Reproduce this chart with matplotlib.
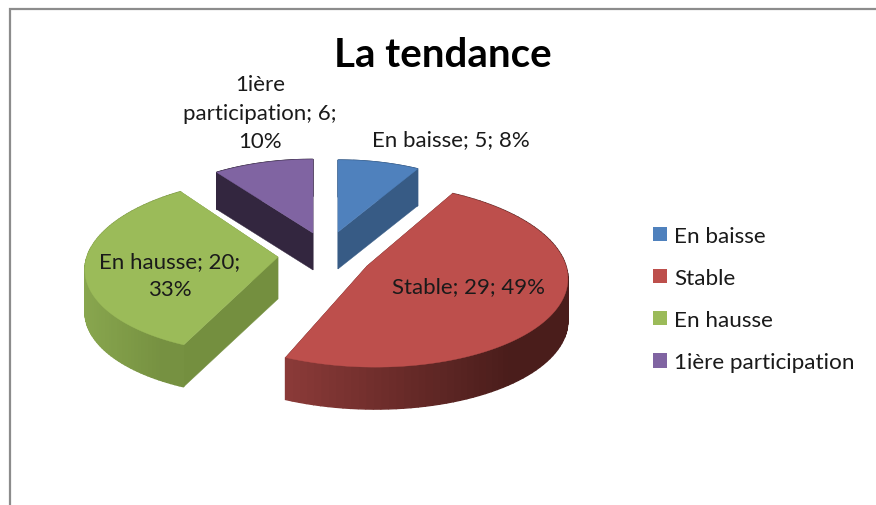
import numpy as np
import matplotlib
matplotlib.use('Agg')
import matplotlib.pyplot as plt
from matplotlib.patches import Patch

plt.rcParams['font.family'] = ['Lato', 'DejaVu Sans']

# Data
categories = ['En baisse', 'Stable', 'En hausse', '1ière participation']
values = [5, 29, 20, 6]
percents = [8, 49, 33, 10]

# Look of the slices
top_colors = ['#4f81bd', '#bd4f4c', '#9bbb59', '#8064a2']
cut_colors = ['#375b85', '#4a1d1b', '#748f3f', '#33263f']
rim_left = ['#375b85', '#8c3b39', '#88a64e', '#33263f']
rim_right = ['#375b85', '#4a1d1b', '#769141', '#33263f']
apex = [(338, 233), (367, 267), (278, 258), (313, 234)]
scale = [0.87, 1.0, 0.96, 0.89]
shear = [0, 0.083, -0.1, 0]
depth = [37, 42, 42, 37]
label_pos = [(451, 140), (469, 287), (170, 276), (260, 113.5)]

RX, RY, PERSP = 199, 91, 0.1


def rim(theta, i):
    # theta clockwise from 12 o'clock, slightly smaller towards the back
    f = scale[i] / (1 + PERSP * np.cos(theta))
    dy = -RY * np.cos(theta) * f
    return apex[i][0] + RX * np.sin(theta) * f + shear[i] * dy, apex[i][1] + dy


def lerp_color(c1, c2, t):
    a = np.array(matplotlib.colors.to_rgb(c1))
    b = np.array(matplotlib.colors.to_rgb(c2))
    return tuple(a + (b - a) * t)


fig = plt.figure(figsize=(8.76, 5.06), dpi=100)
ax = fig.add_axes([0, 0, 1, 1])
ax.set_xlim(0, 876)
ax.set_ylim(506, 0)
ax.axis('off')

# Chart frame, open on the right and at the bottom
ax.plot([10, 10, 876], [506, 10, 10], color='#8c8c8c', lw=1.6, solid_joinstyle='miter')

edges = np.cumsum([0] + values) / sum(values) * 2 * np.pi

for i in range(len(values)):
    th = np.linspace(edges[i], edges[i + 1], 90)
    x, y = rim(th, i)
    ax0, ay0 = apex[i]
    d = depth[i]

    # cut faces
    for k in [0, -1]:
        ax.fill([ax0, x[k], x[k], ax0], [ay0, y[k], y[k] + d, ay0 + d],
                color=cut_colors[i], lw=0.3, zorder=2 + i * 0.1)

    # outer wall, shaded left to right
    for j in range(len(th) - 1):
        t = np.clip((x[j] - x.min()) / (0.8 * (x.max() - x.min())), 0, 1)
        ax.fill([x[j], x[j + 1], x[j + 1], x[j]],
                [y[j], y[j + 1], y[j + 1] + d, y[j] + d],
                color=lerp_color(rim_left[i], rim_right[i], t), lw=1.0, zorder=3 + i * 0.1)

    # top face
    ax.fill(np.r_[ax0, x], np.r_[ay0, y], color=top_colors[i], lw=0.3, zorder=4 + i * 0.1)

# Data labels
for i in range(len(values)):
    txt = f'{categories[i]}; {values[i]}; {percents[i]}%'
    if i == 2:
        txt = f'{categories[i]}; {values[i]};\n{percents[i]}%'
    if i == 3:
        txt = f'1ière\nparticipation; {values[i]};\n{percents[i]}%'
    ax.text(label_pos[i][0], label_pos[i][1], txt, ha='center', va='center', fontsize=16,
            color='#1a1a1a', linespacing=1.52, zorder=6)

ax.text(443, 55, 'La tendance', ha='center', va='center', fontsize=29, fontweight='bold',
        color='black', zorder=6)

handles = [Patch(facecolor=c, edgecolor='none') for c in top_colors]
ax.legend(handles, categories, loc='center left', bbox_to_anchor=(653 / 876, 1 - 300 / 506),
          frameon=False, fontsize=16.2, handlelength=0.63, handleheight=0.63, handletextpad=0.32,
          labelspacing=0.98, borderpad=0, borderaxespad=0, labelcolor='#1a1a1a')

plt.savefig('out.png', dpi=100)
